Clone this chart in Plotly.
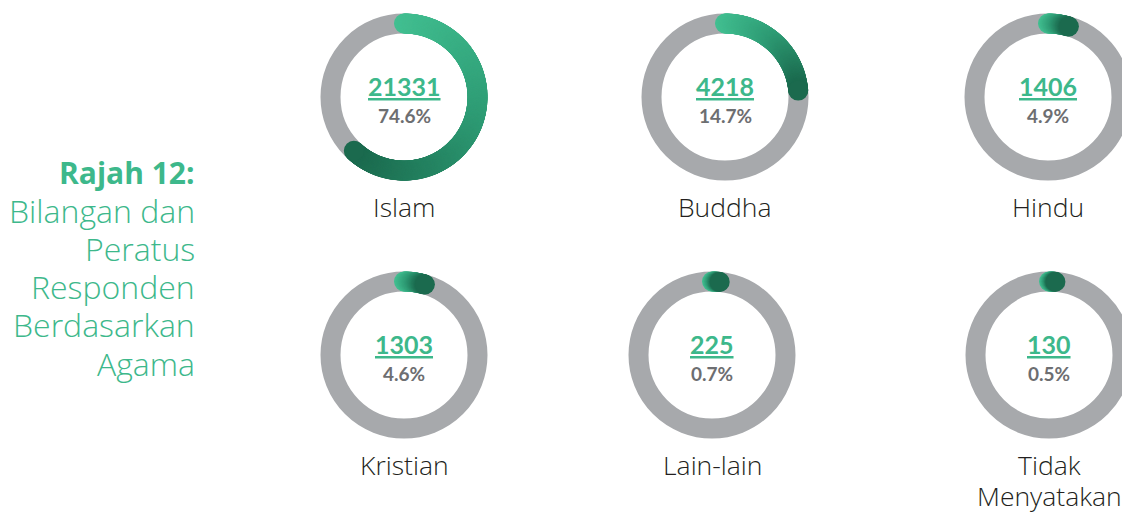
import numpy as np
import plotly.graph_objects as go

religions = ["Islam", "Buddha", "Hindu", "Kristian", "Lain-lain", "Tidak<br>Menyatakan"]
counts = [21331, 4218, 1406, 1303, 225, 130]
percents = [74.6, 14.7, 4.9, 4.6, 0.7, 0.5]
# arc length as drawn in the infographic (degrees, clockwise from top)
arc_deg = [223, 85, 16.5, 16.5, 6, 5]

title_lines = ["<b>Rajah 12:</b>", "Bilangan dan", "Peratus", "Responden", "Berdasarkan", "Agama"]

W, H = 1122, 513
centers_x = [404, 725, 1048, 404, 712, 1049]
centers_y = [97, 97, 97, 355, 355, 355]
ring_r = 73.5
ring_w = 20

green = "#3db88b"
grey_ring = "#a7a9ac"
grad = [[0, "#42bf91"], [0.5, "#2e9b74"], [1, "#1b6a4e"]]
num_font = "Lato"
text_font = "Open Sans"

fig = go.Figure()

for i, name in enumerate(religions):
    cx, cy = centers_x[i], centers_y[i]
    fig.add_shape(type="circle", xref="x", yref="y",
                  x0=cx - ring_r, x1=cx + ring_r, y0=cy - ring_r, y1=cy + ring_r,
                  line=dict(color=grey_ring, width=ring_w), layer="below")

    theta = np.linspace(0, arc_deg[i], max(2, int(arc_deg[i] * 2)))
    rad = np.radians(theta)
    fig.add_trace(go.Scatter(
        x=cx + ring_r * np.sin(rad),
        y=cy - ring_r * np.cos(rad),
        mode="markers",
        marker=dict(size=ring_w, color=theta / max(arc_deg[i], 1e-9),
                    colorscale=grad, cmin=0, cmax=1, line=dict(width=0)),
        hoverinfo="skip", showlegend=False,
    ))

    fig.add_annotation(x=cx, y=cy - 11, text=f"<u><b>{counts[i]}</b></u>",
                       showarrow=False, font=dict(family=num_font, size=25, color=green))
    fig.add_annotation(x=cx, y=cy + 18, text=f"<b>{percents[i]}%</b>",
                       showarrow=False, font=dict(family=num_font, size=19, color="#6d6e71"))
    for k, part in enumerate(name.split("<br>")):
        fig.add_annotation(x=cx, y=cy + 110 + 31 * k, text=part, showarrow=False,
                           font=dict(family=text_font, size=26.5, weight=300, color="#231f20"))

for j, line in enumerate(title_lines):
    fig.add_annotation(x=197, y=172 + 38.2 * j, xanchor="right", text=line,
                       showarrow=False,
                       font=dict(family=text_font, size=30 if j == 0 else 32,
                                 weight=300, color=green))

fig.update_xaxes(range=[0, W], visible=False, fixedrange=True)
fig.update_yaxes(range=[H, 0], visible=False, fixedrange=True)
fig.update_layout(width=W, height=H, margin=dict(l=0, r=0, t=0, b=0),
                  plot_bgcolor="white", paper_bgcolor="white", showlegend=False)

fig.write_html("out.html", config={"displayModeBar": False},
               post_script="document.body.style.margin='0';")
